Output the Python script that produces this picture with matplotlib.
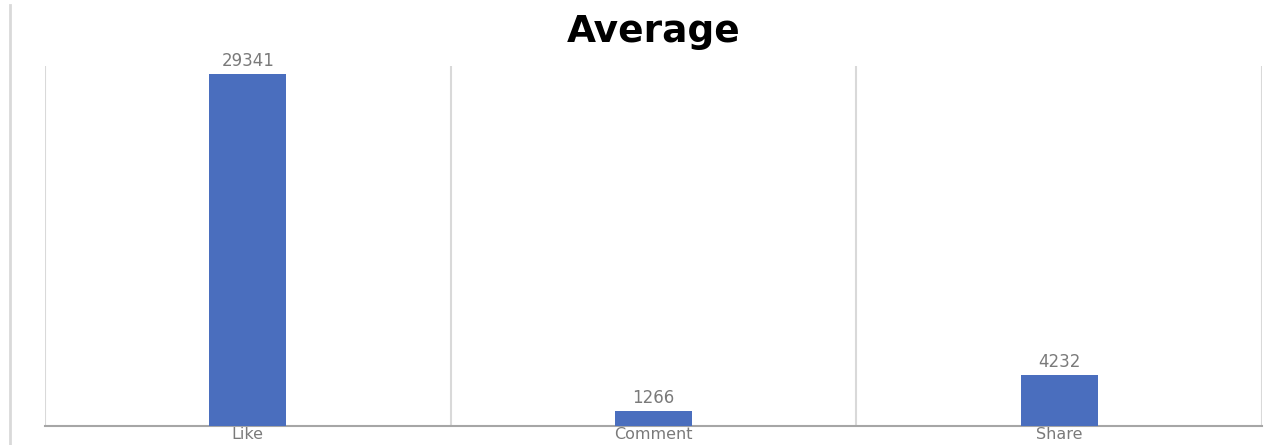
import numpy as np
import matplotlib.pyplot as plt
from matplotlib.lines import Line2D

# Datos del gráfico
categories = ['Like', 'Comment', 'Share']
averages = [29341, 1266, 4232]

BAR_COLOR = '#4a6ebe'
GRID_COLOR = '#d9d9d9'
TEXT_COLOR = '#7a7a7a'


def main():
    fig = plt.figure(figsize=(12.7, 4.45), dpi=100)
    ax = fig.add_axes([45 / 1270, 19 / 445, 1217 / 1270, 360 / 445])

    x = np.arange(len(categories))
    bars = ax.bar(x, averages, width=0.19, color=BAR_COLOR, zorder=3)

    # etiquetas de valor encima de cada barra
    for rect, val in zip(bars, averages):
        ax.annotate(str(val), (rect.get_x() + rect.get_width() / 2, rect.get_height()),
                    xytext=(0, 3), textcoords='offset points',
                    ha='center', va='bottom', fontsize=12, color=TEXT_COLOR)

    ax.set_xlim(-0.5, len(categories) - 0.5)
    ax.set_ylim(0, 30000)

    ax.set_xticks(x)
    ax.set_xticklabels(categories, fontsize=11.5, color=TEXT_COLOR)
    ax.tick_params(axis='x', which='major', length=0, pad=1)
    ax.set_yticks([])

    # líneas verticales entre categorías
    ax.set_xticks(np.arange(-0.5, len(categories)), minor=True)
    ax.tick_params(axis='x', which='minor', length=0)
    ax.grid(True, which='minor', axis='x', color=GRID_COLOR, linewidth=1.5, zorder=0)

    for side in ['top', 'right', 'left']:
        ax.spines[side].set_visible(False)
    ax.spines['bottom'].set_color('#a6a6a6')
    ax.spines['bottom'].set_linewidth(1.5)

    ax.set_title('Average', fontsize=27, fontweight='bold', color='black', pad=17)

    # borde izquierdo del área del gráfico
    fig.add_artist(Line2D([10 / 1270, 10 / 1270], [0, 440 / 445],
                          transform=fig.transFigure, color=GRID_COLOR, linewidth=2))

    fig.savefig('out.png', dpi=100)
    plt.close(fig)


if __name__ == '__main__':
    main()
